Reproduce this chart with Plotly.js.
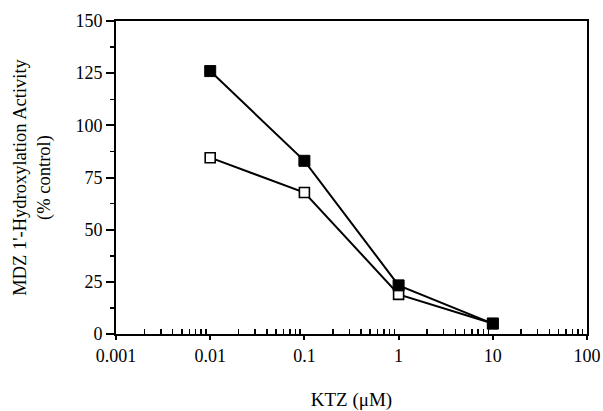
<!DOCTYPE html>
<html><head><meta charset="utf-8">
<script src="https://cdn.plot.ly/plotly-3.0.1.min.js"></script>
<style>body{margin:0;background:#fff}</style>
</head><body><div id="c" style="width:603px;height:411px"></div>
<script>
const ktz = [0.01, 0.1, 1, 10];
const filledSeries = [126, 83, 23.3, 5];
const openSeries = [84.5, 67.8, 19, 5];
const xTickVals = [0.001, 0.01, 0.1, 1, 10, 100];
const xTickText = ['0.001', '0.01', '0.1', '1', '10', '100'];
const yTickVals = [0, 25, 50, 75, 100, 125, 150];

// minor tick positions for the log axis (2..9 in each decade)
const xMinorVals = [];
[0.001, 0.01, 0.1, 1, 10].forEach(d => { for (let k = 2; k <= 9; k++) xMinorVals.push(+(d * k).toPrecision(3)); });

const font = {family: 'Liberation Serif, Times New Roman, serif', color: '#000'};
const traces = [
  {x: ktz, y: openSeries, type: 'scatter', mode: 'lines+markers', name: 'open',
   line: {color: '#000', width: 2},
   marker: {symbol: 'square', size: 10, color: '#fff', line: {color: '#000', width: 1.6}}},
  {x: ktz, y: filledSeries, type: 'scatter', mode: 'lines+markers', name: 'filled',
   line: {color: '#000', width: 2},
   marker: {symbol: 'square', size: 11, color: '#000', line: {color: '#000', width: 1}}}
];
const layout = {
  width: 603, height: 411,
  margin: {l: 116, r: 16, t: 21, b: 77},
  paper_bgcolor: '#fff', plot_bgcolor: '#fff',
  showlegend: false,
  font: Object.assign({size: 18}, font),
  xaxis: {
    type: 'log', range: [-3, 2],
    tickvals: xTickVals, ticktext: xTickText,
    ticks: 'outside', ticklen: 4, tickwidth: 2, tickcolor: '#000',
    showline: true, linecolor: '#000', linewidth: 2, mirror: true,
    showgrid: false, zeroline: false,
    minor: {tickmode: 'array', tickvals: xMinorVals, ticks: 'inside', ticklen: 5, tickwidth: 1.5, tickcolor: '#000', showgrid: false},
    tickfont: Object.assign({size: 18}, font),
    title: {text: 'KTZ (μM)', font: Object.assign({size: 19}, font), standoff: 33}
  },
  yaxis: {
    range: [0, 150], tickvals: yTickVals,
    ticks: 'outside', ticklen: 8, tickwidth: 2, tickcolor: '#000',
    showline: true, linecolor: '#000', linewidth: 2, mirror: true,
    showgrid: false, zeroline: false,
    minor: {dtick: 12.5, ticks: 'outside', ticklen: 4, tickwidth: 1.5, tickcolor: '#000', showgrid: false},
    tickfont: Object.assign({size: 18}, font),
    title: {text: "MDZ 1'-Hydroxylation Activity<br>(% control)", font: Object.assign({size: 18.5}, font), standoff: 20}
  }
};
Plotly.newPlot('c', traces, layout, {staticPlot: true});
</script></body></html>
